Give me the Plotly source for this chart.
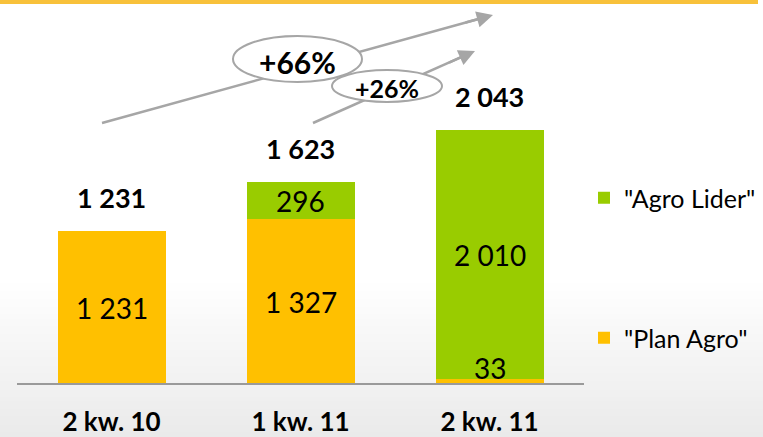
import plotly.graph_objects as go

# ---------------- data ----------------
categories = ["2 kw. 10", "1 kw. 11", "2 kw. 11"]
plan_agro = [1231, 1327, 33]
agro_lider = [0, 296, 2010]
name_plan = '"Plan Agro"'
name_lider = '"Agro Lider"'

totals = [a + b for a, b in zip(plan_agro, agro_lider)]


def fmt(v):
    return f"{v:,}".replace(",", " ")


growth_66 = f"+{round((totals[2] / totals[0] - 1) * 100)}%"
growth_26 = f"+{round((totals[2] / totals[1] - 1) * 100)}%"

# ---------------- geometry / style ----------------
W, H = 763, 437
ML, MR, MT, MB = 17, 179, 30, 54
PW = W - ML - MR
PH = H - MT - MB
YMAX = 2851

YELLOW = "#FFC000"
GREEN = "#99CC00"
GREY = "#A6A6A6"
FONT = "Lato"


def px(x):
    return (x - ML) / PW


def py(y):
    return (H - MB - y) / PH


fig = go.Figure()
fig.add_trace(go.Bar(
    x=categories, y=plan_agro, name=name_plan, marker=dict(color=YELLOW, line=dict(width=0)),
    legend="legend2", hoverinfo="skip"))
fig.add_trace(go.Bar(
    x=categories, y=agro_lider, name=name_lider, marker=dict(color=GREEN, line=dict(width=0)),
    legend="legend", hoverinfo="skip"))

annotations = []
scale = PH / YMAX
# inner segment labels
for i, c in enumerate(categories):
    segs = [(0, plan_agro[i]), (plan_agro[i], agro_lider[i])]
    for base, v in segs:
        if not v:
            continue
        if v * scale < 25:
            annotations.append(dict(x=c, y=base, xref="x", yref="y", text=fmt(v), showarrow=False,
                                    yanchor="bottom", yshift=-4,
                                    font=dict(family=FONT, size=28, color="#000")))
        else:
            annotations.append(dict(x=c, y=base + v / 2, xref="x", yref="y", text=fmt(v), showarrow=False,
                                    yanchor="middle", yshift=-1,
                                    font=dict(family=FONT, size=28, color="#000")))
# totals
for c, t in zip(categories, totals):
    annotations.append(dict(x=c, y=t, xref="x", yref="y", text=fmt(t), showarrow=False,
                            yanchor="bottom", yshift=15,
                            font=dict(family=FONT, size=27, color="#000", weight="bold")))

shapes = []
# background gradient (bottom)
n = 40
y_start, y_end = 280, 437
for k in range(n):
    y0 = y_start + (y_end - y_start) * k / n
    y1 = y_start + (y_end - y_start) * (k + 1) / n
    f = (k + 0.5) / n
    g = int(round(255 - (255 - 234) * f))
    shapes.append(dict(type="rect", xref="paper", yref="paper", layer="below",
                       x0=px(0), x1=px(W), y0=py(y1), y1=py(y0) + 0.002,
                       fillcolor=f"rgb({g},{g},{g})", line=dict(width=0)))
# top yellow rule
shapes.append(dict(type="rect", xref="paper", yref="paper", layer="above",
                   x0=px(0), x1=px(758), y0=py(4), y1=py(0) + 0.01,
                   fillcolor="#F8C13A", line=dict(width=0)))

# growth arrows (line part) then ellipses on top
arrows = [((102, 123), (493, 15)), ((313, 123), (475, 51))]
ellipses = [((233, 36, 362, 82), growth_66, 30, 62), ((332, 70, 442, 102), growth_26, 25, 88)]
for (x0, y0), (x1, y1) in arrows:
    shapes.append(dict(type="line", xref="paper", yref="paper", layer="above",
                       x0=px(x0), y0=py(y0), x1=px(x1 - (x1 - x0) * 0.03), y1=py(y1 - (y1 - y0) * 0.03),
                       line=dict(color=GREY, width=2.5)))
for (ex0, ey0, ex1, ey1), txt, fs, ty in ellipses:
    shapes.append(dict(type="circle", xref="paper", yref="paper", layer="above",
                       x0=px(ex0), x1=px(ex1), y0=py(ey1), y1=py(ey0),
                       fillcolor="white", line=dict(color=GREY, width=2)))
    annotations.append(dict(x=px((ex0 + ex1) / 2), y=py(ty), xref="paper", yref="paper",
                            text=txt, showarrow=False, xanchor="center", yanchor="middle",
                            font=dict(family=FONT, size=fs, color="#000", weight="bold")))
for (x0, y0), (x1, y1) in arrows:
    dx, dy = x1 - x0, y1 - y0
    L = (dx * dx + dy * dy) ** 0.5
    back = 30
    annotations.append(dict(x=px(x1), y=py(y1), xref="paper", yref="paper", text="",
                            showarrow=True, ax=-dx / L * back, ay=-dy / L * back,
                            arrowhead=2, arrowsize=1.3, arrowwidth=2.5, arrowcolor=GREY,
                            standoff=0, startstandoff=0))

legend_common = dict(xanchor="left", yanchor="middle", bgcolor="rgba(0,0,0,0)",
                     font=dict(family=FONT, size=25, color="#000"), itemclick=False,
                     itemdoubleclick=False)

fig.update_layout(
    width=W, height=H,
    margin=dict(l=ML, r=MR, t=MT, b=MB, autoexpand=False),
    barmode="stack", bargap=0.4286,
    paper_bgcolor="white", plot_bgcolor="rgba(0,0,0,0)",
    showlegend=True,
    legend=dict(x=px(584), y=py(198), **legend_common),
    legend2=dict(x=px(584), y=py(338), **legend_common),
    xaxis=dict(type="category", showline=True, linecolor="#9A9A9A", linewidth=2,
               ticks="", showgrid=False, zeroline=False, ticklabelstandoff=15,
               tickfont=dict(family=FONT, size=26, color="#000", weight="bold")),
    yaxis=dict(range=[0, YMAX], visible=False, showgrid=False, zeroline=False),
    annotations=annotations,
    shapes=shapes,
    hovermode=False,
)

fig.write_html("out.html", config={"displayModeBar": False},
               post_script="document.body.style.margin='0';document.body.style.overflow='hidden';")
